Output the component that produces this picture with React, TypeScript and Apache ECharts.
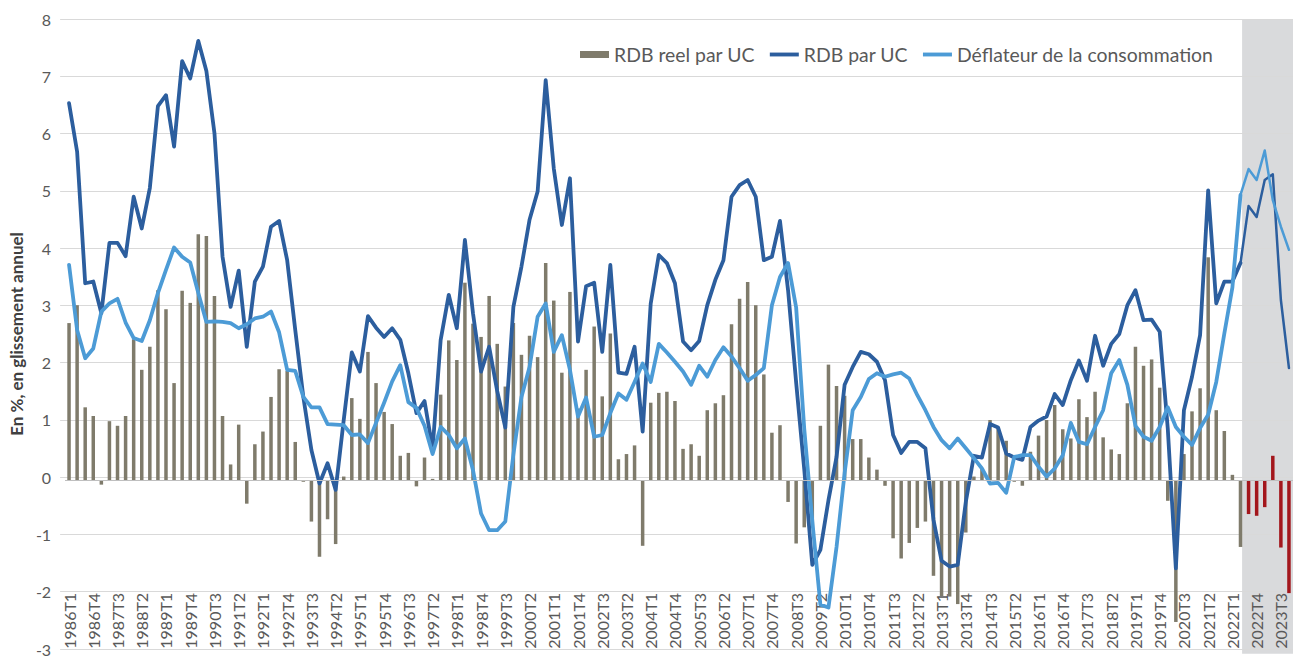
import React, { useEffect, useRef } from "react";
import * as echarts from "echarts";

// Quarterly categories 1986T1 .. 2023T4
const years: number[] = [];
for (let y = 1986; y <= 2023; y++) years.push(y);
const quarters: string[] = [];
years.forEach((y) => [1, 2, 3, 4].forEach((q) => quarters.push(`${y}T${q}`)));

// RDB réel par UC (bars), en %
const rdbReelParUC = [
  2.73, 3.04, 1.27, 1.12, -0.07, 1.03, 0.95, 1.12, 2.45, 1.92, 2.32, 3.30, 2.97, 1.69, 3.29, 3.08,
  4.27, 4.24, 3.20, 1.12, 0.28, 0.97, -0.40, 0.63, 0.85, 1.45, 1.93, 1.90, 0.67, -0.02, -0.71, -1.32,
  -0.67, -1.10, 0.07, 1.43, 1.07, 2.23, 1.69, 1.19, 0.98, 0.43, 0.48, -0.10, 0.40, 0.03, 1.49, 2.43,
  2.09, 3.43, 2.72, 2.49, 3.20, 2.37, 1.63, 2.73, 2.18, 2.51, 2.14, 3.77, 3.12, 1.87, 3.27, 1.25,
  1.92, 2.67, 1.46, 2.55, 0.37, 0.46, 0.61, -1.13, 1.35, 1.52, 1.54, 1.38, 0.55, 0.63, 0.43, 1.22,
  1.34, 1.48, 2.71, 3.15, 3.44, 3.04, 1.84, 0.83, 0.96, -0.37, -1.09, -0.81, -0.80, 0.95, 2.01, 1.64,
  1.47, 0.72, 0.72, 0.40, 0.19, -0.09, -1.00, -1.35, -1.08, -0.82, -0.71, -1.65, -2.00, -2.01, -2.14, -0.90,
  0.07, 0.20, 1.05, 0.92, 0.69, -0.02, -0.09, 0.50, 0.78, 1.05, 1.31, 0.89, 0.73, 1.41, 1.10, 1.54,
  0.75, 0.54, 0.46, 1.34, 2.32, 1.99, 2.10, 1.61, -0.35, -2.45, 0.46, 1.20, 1.60, 3.87, 1.22, 0.86,
  0.10, -1.15, -0.58, -0.61, -0.46, 0.43, -1.16, -1.95,
];

// RDB par UC (dark blue line), en %
const rdbParUC = [
  6.54, 5.70, 3.42, 3.45, 2.90, 4.12, 4.12, 3.89, 4.92, 4.37, 5.07, 6.49, 6.68, 5.79, 7.27, 6.97,
  7.62, 7.10, 6.02, 3.88, 3.01, 3.64, 2.32, 3.45, 3.71, 4.40, 4.50, 3.82, 2.61, 1.45, 0.53, -0.05,
  0.30, -0.16, 1.05, 2.22, 1.89, 2.85, 2.65, 2.49, 2.64, 2.44, 1.86, 1.17, 1.38, 0.55, 2.44, 3.22,
  2.64, 4.17, 2.90, 1.89, 2.32, 1.55, 0.92, 3.01, 3.71, 4.52, 5.01, 6.94, 5.41, 4.43, 5.24, 2.41,
  3.37, 3.43, 2.23, 3.74, 1.87, 1.85, 2.32, 0.85, 3.07, 3.91, 3.77, 3.42, 2.41, 2.26, 2.42, 3.04,
  3.48, 3.82, 4.92, 5.12, 5.21, 4.92, 3.82, 3.88, 4.50, 3.30, 1.70, 0.20, -1.46, -1.20, -0.34, 0.41,
  1.66, 1.97, 2.23, 2.19, 2.06, 1.74, 0.79, 0.48, 0.67, 0.67, 0.56, -0.68, -1.39, -1.49, -1.46, -0.37,
  0.43, 0.40, 0.98, 0.92, 0.47, 0.40, 0.36, 0.93, 1.04, 1.11, 1.50, 1.31, 1.74, 2.08, 1.73, 2.51,
  1.99, 2.37, 2.54, 3.04, 3.30, 2.78, 2.79, 2.58, 0.90, -1.52, 1.22, 1.80, 2.52, 5.03, 3.07, 3.45,
  3.45, 3.77, 4.76, 4.57, 5.21, 5.31, 3.13, 1.95,
];

// Déflateur de la consommation (light blue line), en %
const deflateur = [
  3.74, 2.61, 2.12, 2.29, 2.93, 3.07, 3.15, 2.74, 2.47, 2.42, 2.78, 3.25, 3.65, 4.04, 3.88, 3.78,
  3.25, 2.75, 2.76, 2.75, 2.73, 2.64, 2.71, 2.81, 2.84, 2.93, 2.57, 1.92, 1.90, 1.45, 1.27, 1.27,
  0.98, 0.97, 0.96, 0.79, 0.80, 0.65, 1.00, 1.35, 1.72, 2.00, 1.36, 1.26, 0.95, 0.46, 0.93, 0.79,
  0.56, 0.73, 0.18, -0.57, -0.86, -0.86, -0.71, 0.45, 1.45, 1.97, 2.84, 3.07, 2.23, 2.52, 1.92, 1.11,
  1.44, 0.76, 0.79, 1.17, 1.51, 1.40, 1.71, 2.03, 1.71, 2.37, 2.22, 2.06, 1.89, 1.66, 1.99, 1.80,
  2.09, 2.31, 2.15, 1.95, 1.73, 1.83, 1.95, 3.04, 3.53, 3.77, 3.00, 0.90, -0.70, -2.15, -2.20, -1.15,
  0.13, 1.22, 1.45, 1.76, 1.86, 1.80, 1.84, 1.87, 1.77, 1.48, 1.22, 0.93, 0.70, 0.56, 0.73, 0.56,
  0.39, 0.21, -0.05, -0.04, -0.21, 0.41, 0.44, 0.44, 0.24, 0.07, 0.21, 0.44, 1.00, 0.67, 0.63, 0.93,
  1.22, 1.86, 2.09, 1.66, 0.95, 0.76, 0.69, 0.93, 1.27, 0.93, 0.76, 0.62, 0.91, 1.14, 1.71, 2.55,
  3.35, 4.95, 5.40, 5.21, 5.72, 4.86, 4.40, 4.00,
];

const forecastLineStart = "2022T2"; // lines drawn thinner from here
const forecastBarStart = "2022T3"; // red bars & shaded zone from here
const yMin = -3;
const yMax = 8;
const yInterval = 1;

const FONT = "Lato, 'Open Sans', 'DejaVu Sans', sans-serif";
const GREY_BAR = "#7F7B6B";
const RED_BAR = "#A3161C";
const DARK = "#2C5E9E";
const LIGHT = "#4C9BD6";
const TEXT = "#595959";
const GRID = "#D9D9D9";

export default function App() {
  const ref = useRef<HTMLDivElement>(null);

  useEffect(() => {
    if (!ref.current) return;
    const chart = echarts.init(ref.current, undefined, { renderer: "svg" });
    const fLine = quarters.indexOf(forecastLineStart);
    const fBar = quarters.indexOf(forecastBarStart);

    const option: any = {
      animation: false,
      backgroundColor: "#ffffff",
      textStyle: { fontFamily: FONT },
      grid: [
        { left: 54, right: 10, top: 19, bottom: 3.3 },
        { left: 65, right: 10, top: 19, bottom: 3.3 },
      ],
      legend: {
        left: 575,
        top: 40,
        itemWidth: 29,
        itemHeight: 7,
        itemGap: 15,
        textStyle: { fontFamily: FONT, fontSize: 19.4, color: TEXT },
        data: [
          { name: "RDB reel par UC", icon: "rect" },
          { name: "RDB par UC", icon: "path://M0,0H30V4H0Z" },
          { name: "Déflateur de la consommation", icon: "path://M0,0H30V4H0Z" },
        ],
      },
      xAxis: [
        { gridIndex: 0, type: "value", min: 0, max: 1, show: false },
        {
          gridIndex: 1,
          type: "category",
          data: quarters,
          boundaryGap: true,
          axisLine: { show: false, onZero: false },
          axisTick: { show: false },
          splitLine: { show: false },
          axisLabel: {
            interval: 2,
            rotate: 90,
            inside: true,
            margin: 5,
            color: TEXT,
            fontSize: 16,
            fontFamily: FONT,
          },
        },
      ],
      yAxis: [
        {
          gridIndex: 0,
          type: "value",
          min: yMin,
          max: yMax,
          interval: yInterval,
          axisLine: { show: false },
          axisTick: { show: false },
          axisLabel: { color: TEXT, fontSize: 16, margin: 9, fontFamily: FONT },
          splitLine: { lineStyle: { color: GRID, width: 1 } },
          name: "En %, en glissement annuel",
          nameLocation: "middle",
          nameGap: 32,
          nameTextStyle: { color: "#404040", fontSize: 17, fontWeight: "bold", fontFamily: FONT },
        },
        {
          gridIndex: 1,
          type: "value",
          min: yMin,
          max: yMax,
          interval: yInterval,
          show: false,
          splitLine: { show: false },
        },
      ],
      series: [
        {
          name: "RDB reel par UC",
          type: "bar",
          xAxisIndex: 1,
          yAxisIndex: 1,
          barWidth: 3.5,
          itemStyle: { color: GREY_BAR },
          data: rdbReelParUC.map((v, i) =>
            i >= fBar ? { value: v, itemStyle: { color: RED_BAR } } : v
          ),
          markLine: {
            silent: true,
            symbol: "none",
            label: { show: false },
            lineStyle: { color: "#BFBFBF", width: 1, type: "solid" },
            data: [{ yAxis: 0 }],
          },
          z: 2,
        },
        {
          name: "RDB par UC",
          type: "line",
          xAxisIndex: 1,
          yAxisIndex: 1,
          symbol: "none",
          color: DARK,
          lineStyle: { color: DARK, width: 3.8, join: "round", cap: "round" },
          data: rdbParUC.map((v, i) => (i <= fLine ? v : null)),
          z: 3,
        },
        {
          name: "RDB par UC (prévision)",
          type: "line",
          xAxisIndex: 1,
          yAxisIndex: 1,
          symbol: "none",
          color: DARK,
          lineStyle: { color: DARK, width: 2.5, join: "round", cap: "round" },
          data: rdbParUC.map((v, i) => (i >= fLine ? v : null)),
          z: 3,
        },
        {
          name: "Déflateur de la consommation",
          type: "line",
          xAxisIndex: 1,
          yAxisIndex: 1,
          symbol: "none",
          color: LIGHT,
          lineStyle: { color: LIGHT, width: 3.8, join: "round", cap: "round" },
          data: deflateur.map((v, i) => (i <= fLine ? v : null)),
          z: 4,
        },
        {
          name: "Déflateur (prévision)",
          type: "line",
          xAxisIndex: 1,
          yAxisIndex: 1,
          symbol: "none",
          color: LIGHT,
          lineStyle: { color: LIGHT, width: 2.5, join: "round", cap: "round" },
          data: deflateur.map((v, i) => (i >= fLine ? v : null)),
          z: 4,
        },
      ],
    };
    chart.setOption(option);

    // Shaded forecast zone, positioned through the axes' own scales
    const cPrev = chart.convertToPixel({ xAxisIndex: 1 }, quarters[fBar - 1]) as number;
    const cFirst = chart.convertToPixel({ xAxisIndex: 1 }, quarters[fBar]) as number;
    const cLast = chart.convertToPixel({ xAxisIndex: 1 }, quarters[quarters.length - 1]) as number;
    const bw = cFirst - cPrev;
    const x0 = cPrev + bw * 0.2;
    const x1 = cLast + bw / 2;
    const yTop = chart.convertToPixel({ yAxisIndex: 1 }, yMax) as number;
    const yBot = chart.convertToPixel({ yAxisIndex: 1 }, yMin) as number;
    chart.setOption({
      graphic: [
        {
          type: "rect",
          silent: true,
          z: -10,
          shape: { x: x0, y: yTop, width: x1 - x0, height: yBot - yTop },
          style: { fill: "#D9DADC" },
        },
      ],
    });

    return () => chart.dispose();
  }, []);

  return (
    <div
      ref={ref}
      style={{ position: "fixed", left: 0, top: 0, width: 1303, height: 657, background: "#fff" }}
    />
  );
}
